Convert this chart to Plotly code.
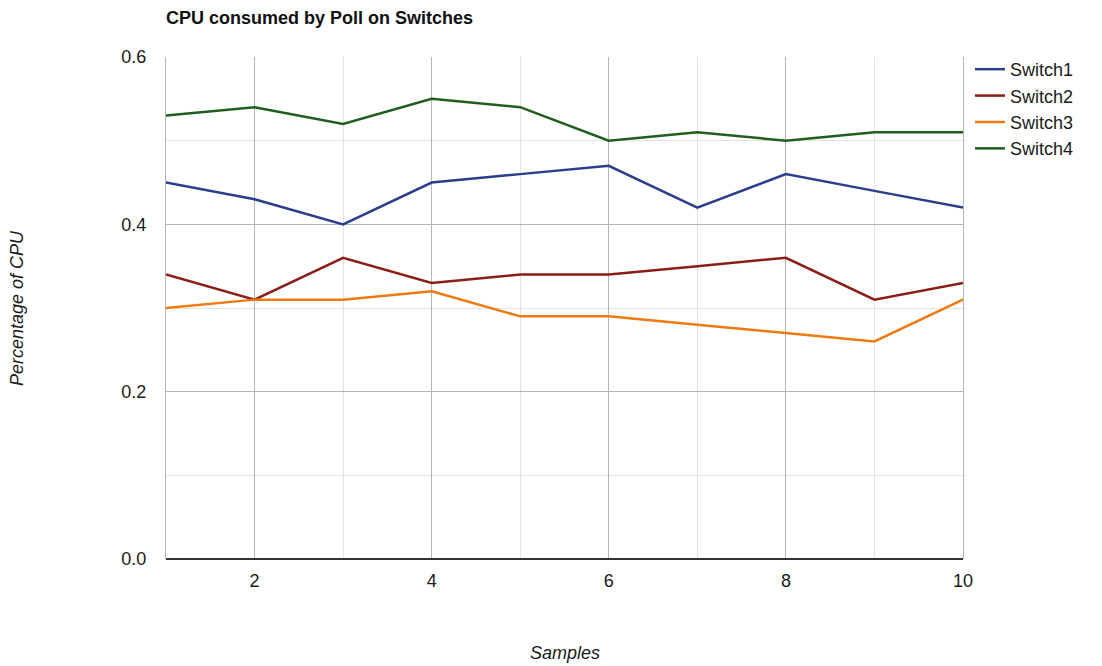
import plotly.graph_objects as go

samples = [1, 2, 3, 4, 5, 6, 7, 8, 9, 10]
switch1 = [0.45, 0.43, 0.40, 0.45, 0.46, 0.47, 0.42, 0.46, 0.44, 0.42]
switch2 = [0.34, 0.31, 0.36, 0.33, 0.34, 0.34, 0.35, 0.36, 0.31, 0.33]
switch3 = [0.30, 0.31, 0.31, 0.32, 0.29, 0.29, 0.28, 0.27, 0.26, 0.31]
switch4 = [0.53, 0.54, 0.52, 0.55, 0.54, 0.50, 0.51, 0.50, 0.51, 0.51]
names = ["Switch1", "Switch2", "Switch3", "Switch4"]
colors = ["#2b3d8c", "#8a1d16", "#ee7a12", "#1f5e1f"]

fig = go.Figure()
for name, vals, col in zip(names, [switch1, switch2, switch3, switch4], colors):
    fig.add_trace(go.Scatter(x=samples, y=vals, mode="lines", name=name,
                             line=dict(color=col, width=2.5)))

font = "Liberation Sans, Arial, sans-serif"
# page has an 8px body margin; figure sized to fit inside the window
W, H = 1094, 658
L, T, R, B = 158, 49, 139, 107
fig.update_layout(
    width=W, height=H,
    paper_bgcolor="white", plot_bgcolor="white",
    margin=dict(l=L, r=R, t=T, b=B),
    font=dict(family=font, size=18, color="#1a1a1a"),
    title=dict(text="<b>CPU consumed by Poll on Switches</b>", x=L/W, xanchor="left",
               y=1-10/H, yanchor="middle", font=dict(size=18, color="#111")),
    legend=dict(x=1.0088, xanchor="left", y=1.012, yanchor="top",
                font=dict(size=18, color="#1a1a1a"), tracegroupgap=0, itemwidth=30,
                bgcolor="rgba(0,0,0,0)"),
    showlegend=True,
)
fig.update_xaxes(range=[1, 10], tick0=0, dtick=2, showgrid=True, gridcolor="#b5b5b5", gridwidth=1,
                 minor=dict(dtick=1, tick0=0, showgrid=True, gridcolor="#e3e3e3", gridwidth=1),
                 zeroline=False, showline=False, ticks="outside", ticklen=5, tickcolor="rgba(0,0,0,0)",
                 tickfont=dict(size=18, color="#1a1a1a"))
fig.update_yaxes(range=[0, 0.6], tick0=0, dtick=0.2, tickformat=".1f", showgrid=True, gridcolor="#b5b5b5",
                 gridwidth=1, minor=dict(dtick=0.1, tick0=0, showgrid=True, gridcolor="#e3e3e3", gridwidth=1),
                 zeroline=True, zerolinecolor="#333", zerolinewidth=2,
                 showline=True, mirror=True, linecolor="#b5b5b5", linewidth=1,
                 ticks="outside", ticklen=15, tickcolor="rgba(0,0,0,0)", tickfont=dict(size=18, color="#1a1a1a"))

fig.add_annotation(text="<i>Samples</i>", xref="paper", yref="paper", x=(565-166)/797, y=-(653-559)/502,
                   xanchor="center", yanchor="middle", showarrow=False, font=dict(size=18, color="#1a1a1a"))
fig.add_annotation(text="<i>Percentage of CPU</i>", xref="paper", yref="paper", x=-(166-17)/797,
                   y=(559-308)/502, xanchor="center", yanchor="middle", textangle=-90, showarrow=False,
                   font=dict(size=18, color="#1a1a1a"))

fig.write_html("out.html")
